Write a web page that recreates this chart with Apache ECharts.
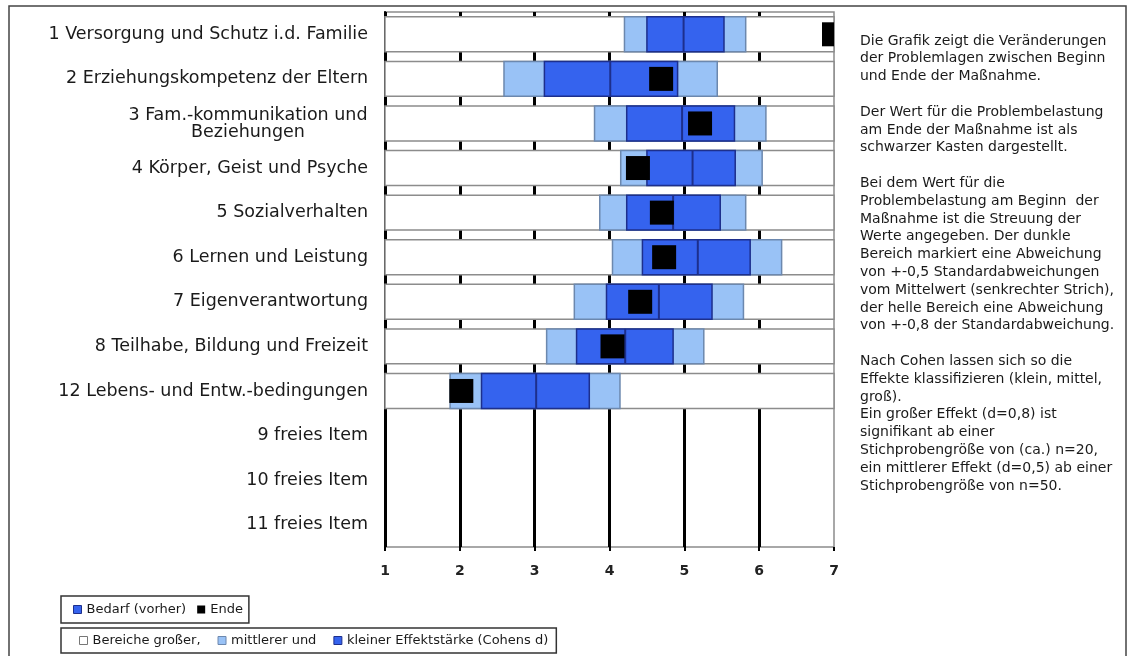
<!DOCTYPE html>
<html>
<head>
<meta charset="utf-8">
<script src="https://cdn.jsdelivr.net/npm/echarts@6/dist/echarts.min.js"></script>
<style>
  html, body { margin: 0; padding: 0; background: #fff; }
  #chart { width: 1129px; height: 656px; }
</style>
</head>
<body>
<div id="chart"></div>
<script>
// Kategorien von oben nach unten
const categories = [
  '1 Versorgung und Schutz i.d. Familie',
  '2 Erziehungskompetenz der Eltern',
  '3 Fam.-kommunikation und\nBeziehungen',
  '4 Körper, Geist und Psyche',
  '5 Sozialverhalten',
  '6 Lernen und Leistung',
  '7 Eigenverantwortung',
  '8 Teilhabe, Bildung und Freizeit',
  '12 Lebens- und Entw.-bedingungen',
  '9 freies Item',
  '10 freies Item',
  '11 freies Item'
];

// Bedarf (vorher): Mittelwert, +-0,5 SD (dunkel), +-0,8 SD (hell)
const outerLow  = [4.20, 2.59, 3.80, 4.15, 3.87, 4.04, 3.53, 3.16, 1.87, null, null, null];
const innerLow  = [4.50, 3.13, 4.23, 4.50, 4.23, 4.44, 3.96, 3.56, 2.29, null, null, null];
const meanValue = [4.99, 4.01, 4.97, 5.11, 4.85, 5.18, 4.66, 4.21, 3.02, null, null, null];
const innerHigh = [5.53, 4.91, 5.67, 5.68, 5.48, 5.88, 5.37, 4.85, 3.73, null, null, null];
const outerHigh = [5.82, 5.44, 6.09, 6.04, 5.82, 6.30, 5.79, 5.26, 4.14, null, null, null];
// Ende der Massnahme
const endValue  = [7.00, 4.69, 5.21, 4.38, 4.70, 4.73, 4.41, 4.04, 2.02, null, null, null];

const scaleMin = 1;
const scaleMax = 7;

const noteLines = [
  'Die Grafik zeigt die Veränderungen',
  'der Problemlagen zwischen Beginn',
  'und Ende der Maßnahme.',
  '',
  'Der Wert für die Problembelastung',
  'am Ende der Maßnahme ist als',
  'schwarzer Kasten dargestellt.',
  '',
  'Bei dem Wert für die',
  'Problembelastung am Beginn  der',
  'Maßnahme ist die Streuung der',
  'Werte angegeben. Der dunkle',
  'Bereich markiert eine Abweichung',
  'von +-0,5 Standardabweichungen',
  'vom Mittelwert (senkrechter Strich),',
  'der helle Bereich eine Abweichung',
  'von +-0,8 der Standardabweichung.',
  '',
  'Nach Cohen lassen sich so die',
  'Effekte klassifizieren (klein, mittel,',
  'groß).',
  'Ein großer Effekt (d=0,8) ist',
  'signifikant ab einer',
  'Stichprobengröße von (ca.) n=20,',
  'ein mittlerer Effekt (d=0,5) ab einer',
  'Stichprobengröße von n=50.'
];

const FONT = 'DejaVu Sans';
const LIGHT = '#99c2f6';
const LIGHT_EDGE = '#6c88ae';
const DARK = '#3563ee';
const DARK_EDGE = '#1d2f8c';
const BAR_FRAC = 0.785;

const rows = categories.map((c, i) => i).filter(i => outerLow[i] != null);

function gridRect(params) {
  const cs = params.coordSys;
  return { x: cs.x, y: cs.y, width: cs.width, height: cs.height };
}

function rangeRenderer(fill, stroke) {
  return function (params, api) {
    const row = api.value(0);
    const p0 = api.coord([api.value(1), row]);
    const p1 = api.coord([api.value(2), row]);
    const h = api.size([0, 1])[1] * BAR_FRAC;
    const shape = echarts.graphic.clipRectByRect(
      { x: p0[0], y: p0[1] - h / 2, width: p1[0] - p0[0], height: h },
      gridRect(params)
    );
    if (!shape) return;
    return { type: 'rect', shape: shape, style: { fill: fill, stroke: stroke, lineWidth: 1.5 } };
  };
}

function meanRenderer(params, api) {
  const row = api.value(0);
  const p = api.coord([api.value(1), row]);
  const h = api.size([0, 1])[1] * BAR_FRAC;
  return {
    type: 'line',
    shape: { x1: p[0], y1: p[1] - h / 2, x2: p[0], y2: p[1] + h / 2 },
    style: { stroke: DARK_EDGE, lineWidth: 2 }
  };
}

function endRenderer(params, api) {
  const row = api.value(0);
  const p = api.coord([api.value(1), row]);
  const s = 24;
  const shape = echarts.graphic.clipRectByRect(
    { x: p[0] - s / 2, y: p[1] - s / 2, width: s, height: s },
    gridRect(params)
  );
  if (!shape) return;
  return { type: 'rect', shape: shape, style: { fill: '#000' } };
}

const chart = echarts.init(document.getElementById('chart'));

chart.setOption({
  backgroundColor: '#fff',
  animation: false,
  grid: {
    left: 385, top: 12, width: 449, height: 535,
    show: true, borderColor: '#8c8c8c', borderWidth: 1.5
  },
  xAxis: {
    type: 'value',
    min: scaleMin, max: scaleMax, interval: 1,
    axisLine: { lineStyle: { color: '#000', width: 2 } },
    axisTick: { show: true, length: 4, lineStyle: { color: '#000', width: 2 } },
    axisLabel: { fontFamily: FONT, fontSize: 14, fontWeight: 'bold', color: '#222', margin: 17 },
    splitLine: { show: true, showMaxLine: false, lineStyle: { color: '#000', width: 3 } }
  },
  yAxis: {
    type: 'category',
    inverse: true,
    data: categories,
    axisLine: { lineStyle: { color: '#000', width: 2 } },
    axisTick: { length: 6, lineStyle: { color: '#000', width: 2 } },
    axisLabel: {
      fontFamily: FONT, fontSize: 17.5, color: '#1a1a1a', margin: 17,
      formatter: function (v) {
        if (v.indexOf('\n') < 0) return v;
        return v.split('\n').map(s => '{c|' + s + '}').join('\n');
      },
      rich: {
        c: { width: 240, align: 'center', fontFamily: FONT, fontSize: 17.5, lineHeight: 17, color: '#1a1a1a' }
      }
    },
    splitLine: { show: false }
  },
  legend: [
    {
      left: 61, top: 596,
      orient: 'horizontal',
      padding: [6, 6, 6, 12],
      itemGap: 11,
      itemWidth: 8, itemHeight: 8,
      icon: 'rect',
      borderColor: '#333', borderWidth: 1.5,
      backgroundColor: '#fff',
      selectedMode: false,
      textStyle: { fontFamily: FONT, fontSize: 13, color: '#1a1a1a', lineHeight: 15 },
      data: [
        { name: 'Bedarf (vorher)', itemStyle: { color: DARK, borderColor: DARK_EDGE, borderWidth: 1 } },
        { name: 'Ende', itemStyle: { color: '#000' } }
      ]
    },
    {
      left: 61, top: 628,
      orient: 'horizontal',
      padding: [5, 8, 5, 18],
      itemGap: 17,
      itemWidth: 8, itemHeight: 8,
      icon: 'rect',
      borderColor: '#333', borderWidth: 1.5,
      backgroundColor: '#fff',
      selectedMode: false,
      textStyle: { fontFamily: FONT, fontSize: 13, color: '#1a1a1a', lineHeight: 15 },
      data: [
        { name: 'Bereiche großer,', itemStyle: { color: '#fff', borderColor: '#777', borderWidth: 1 } },
        { name: 'mittlerer und', itemStyle: { color: LIGHT, borderColor: LIGHT_EDGE, borderWidth: 1 } },
        { name: 'kleiner Effektstärke (Cohens d)', itemStyle: { color: DARK, borderColor: DARK_EDGE, borderWidth: 1 } }
      ]
    }
  ],
  graphic: [
    {
      type: 'rect',
      shape: { x: 9, y: 6, width: 1117, height: 700 },
      style: { fill: 'none', stroke: '#444', lineWidth: 1.5 },
      silent: true
    },
    {
      type: 'text',
      left: 860, top: 32,
      style: {
        text: noteLines.join('\n'),
        fontFamily: FONT, fontSize: 14, lineHeight: 17.8,
        fill: '#1a1a1a'
      },
      silent: true
    }
  ],
  series: [
    {
      name: 'Bereiche großer,',
      type: 'custom',
      itemStyle: { color: '#fff' },
      renderItem: rangeRenderer('#fff', '#8c8c8c'),
      encode: { x: [1, 2], y: 0 },
      data: rows.map(i => [i, scaleMin, scaleMax])
    },
    {
      name: 'mittlerer und',
      type: 'custom',
      itemStyle: { color: LIGHT },
      renderItem: rangeRenderer(LIGHT, LIGHT_EDGE),
      encode: { x: [1, 2], y: 0 },
      data: rows.map(i => [i, outerLow[i], outerHigh[i]])
    },
    {
      name: 'kleiner Effektstärke (Cohens d)',
      type: 'custom',
      itemStyle: { color: DARK },
      renderItem: rangeRenderer(DARK, DARK_EDGE),
      encode: { x: [1, 2], y: 0 },
      data: rows.map(i => [i, innerLow[i], innerHigh[i]])
    },
    {
      name: 'Bedarf (vorher)',
      type: 'custom',
      itemStyle: { color: DARK },
      renderItem: meanRenderer,
      encode: { x: 1, y: 0 },
      data: rows.map(i => [i, meanValue[i]])
    },
    {
      name: 'Ende',
      type: 'custom',
      itemStyle: { color: '#000' },
      renderItem: endRenderer,
      encode: { x: 1, y: 0 },
      data: rows.map(i => [i, endValue[i]])
    }
  ]
});
</script>
</body>
</html>
